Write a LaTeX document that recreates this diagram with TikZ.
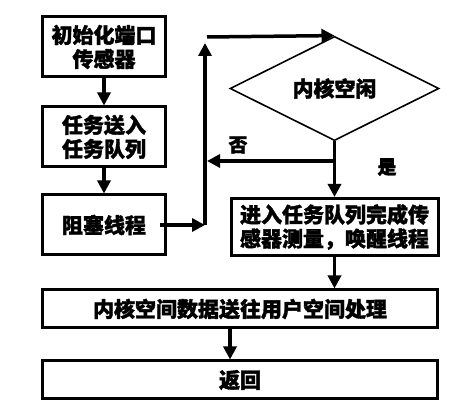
\documentclass[tikz,border=0pt]{standalone}
\usepackage{fontspec}
\usepackage{tikz}
\usetikzlibrary{arrows.meta, shapes.geometric, positioning, calc}
\newfontfamily\cjk[BoldFeatures={FakeBold=1.6}]{Noto Sans CJK SC}

\begin{document}
\begin{tikzpicture}[
  x=1pt, y=-1pt,
  every node/.style={font=\cjk\bfseries\fontsize{21pt}{24pt}\selectfont},
  box/.style={draw, line width=3pt, inner sep=0pt, align=center},
  smallbox/.style={box, minimum width=123pt, minimum height=60pt},
  widebox/.style={box, minimum width=395pt, minimum height=38pt},
  decision/.style={diamond, draw, line width=1.6pt, inner sep=0pt,
              minimum width=209pt, minimum height=103pt},
  arrow/.style={-{Triangle[length=13pt,width=13pt]}, line width=3.5pt},
  label/.style={font=\cjk\bfseries\fontsize{19pt}{21pt}\selectfont},
]
\useasboundingbox (0,0) rectangle (453,419);

\node[smallbox] (init)  at (104,47)  {初始化端口\\传感器};
\node[smallbox, below=27pt of init]  (queue) {任务送入\\任务队列};
\node[smallbox, below=25pt of queue] (block) {阻塞线程};
\node[decision] (idle) at (334.5,88.5) {内核空闲};
\node[box, minimum width=207pt, minimum height=57pt] (wake) at (334.5,227)
  {进入任务队列完成传\\感器测量，唤醒线程};
\node[widebox] (copy) at (240,309) {内核空间数据送往用户空间处理};
\node[widebox, below=30pt of copy] (ret) {返回};

\coordinate (loopB) at (205,225);
\coordinate (loopT) at (205,43);
\coordinate (topL)  at (207,37);
\coordinate (fork)  at (334.5,161);
\coordinate (noEnd) at (207,161);
\coordinate (retX)  at (230,0);

%% main flow
\draw[arrow] (init) -- (queue);
\draw[arrow] (queue) -- (block);

%% back to the check
\draw[arrow] ([xshift=-7pt]block.east |- loopB) -- (loopB);
\draw[arrow] (loopB) -- (loopT);
\draw[arrow] (topL) -- (idle.north);

%% decision branches
\draw[arrow] (idle.south) -- (wake.north);
\draw[arrow] (fork) -- (noEnd);
\node[label] (no)  at (238,145) {否};
\node[label] (yes) at (387,167) {是};

%% final steps
\draw[arrow] (wake.south) -- (wake.south |- copy.north);
\draw[arrow] (copy.south -| retX) -- (ret.north -| retX);

\end{tikzpicture}
\end{document}
